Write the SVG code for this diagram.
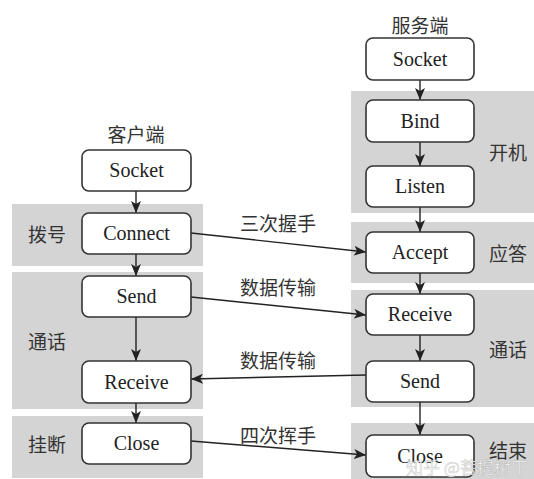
<svg xmlns="http://www.w3.org/2000/svg" width="534" height="479" viewBox="0 0 534 479">
<defs>
<marker id="ah" viewBox="0 0 12 10" refX="12" refY="5" markerWidth="12" markerHeight="10" markerUnits="userSpaceOnUse" orient="auto">
<path d="M0,0 L12,5 L0,10 L3,5 Z" fill="#222"/>
</marker>
<style>
.band{fill:#d4d4d4}
.box{fill:#fff;stroke:#333;stroke-width:1.6}
.en{font-family:"Liberation Serif","Times New Roman",serif;font-size:20px;fill:#222;text-anchor:middle}
.zh{font-family:"Noto Sans CJK SC","Noto Sans",sans-serif;font-size:19px;fill:#333;text-anchor:middle}
.ln{stroke:#222;stroke-width:1.4;fill:none;marker-end:url(#ah)}
</style>
</defs>
<rect width="534" height="479" fill="#fff"/>
<g id="bands">
<rect class="band" x="12" y="204" width="191" height="62"/>
<rect class="band" x="12" y="272" width="191" height="137"/>
<rect class="band" x="12" y="416" width="191" height="62"/>
<rect class="band" x="351" y="91" width="183" height="122"/>
<rect class="band" x="351" y="222" width="183" height="61"/>
<rect class="band" x="351" y="290" width="183" height="117"/>
<rect class="band" x="351" y="423" width="183" height="56"/>
</g>
<g id="labels">
<text class="zh" x="136" y="142">客户端</text>
<text class="zh" x="420" y="33">服务端</text>
<text class="zh" x="47" y="242">拨号</text>
<text class="zh" x="47" y="349">通话</text>
<text class="zh" x="47" y="452">挂断</text>
<text class="zh" x="508" y="160">开机</text>
<text class="zh" x="508" y="261">应答</text>
<text class="zh" x="508" y="357">通话</text>
<text class="zh" x="508" y="458">结束</text>
</g>
<g id="connectors">
<line class="ln" x1="136" y1="191" x2="136" y2="213"/>
<line class="ln" x1="136" y1="254" x2="136" y2="276"/>
<line class="ln" x1="136" y1="317" x2="136" y2="361"/>
<line class="ln" x1="136" y1="403" x2="136" y2="423"/>
<line class="ln" x1="420" y1="80" x2="420" y2="100"/>
<line class="ln" x1="420" y1="142" x2="420" y2="166"/>
<line class="ln" x1="420" y1="207" x2="420" y2="232"/>
<line class="ln" x1="420" y1="273" x2="420" y2="294"/>
<line class="ln" x1="420" y1="335" x2="420" y2="361"/>
<line class="ln" x1="420" y1="402" x2="420" y2="435"/>
<line class="ln" x1="191" y1="233" x2="366" y2="252"/>
<line class="ln" x1="191" y1="297" x2="366" y2="315"/>
<line class="ln" x1="366" y1="375" x2="191" y2="379"/>
<line class="ln" x1="191" y1="441" x2="366" y2="455"/>
<text class="zh" x="278" y="231">三次握手</text>
<text class="zh" x="278" y="295">数据传输</text>
<text class="zh" x="278" y="368">数据传输</text>
<text class="zh" x="278" y="443">四次挥手</text>
</g>
<g id="c-socket"><rect class="box" x="82" y="150" width="109" height="41" rx="7"/><text class="en" x="136.5" y="177">Socket</text></g>
<g id="c-connect"><rect class="box" x="82" y="213" width="109" height="41" rx="7"/><text class="en" x="136.5" y="240">Connect</text></g>
<g id="c-send"><rect class="box" x="82" y="276" width="109" height="41" rx="7"/><text class="en" x="136.5" y="303">Send</text></g>
<g id="c-receive"><rect class="box" x="82" y="361" width="109" height="42" rx="7"/><text class="en" x="136.5" y="389">Receive</text></g>
<g id="c-close"><rect class="box" x="82" y="423" width="109" height="41" rx="7"/><text class="en" x="136.5" y="450">Close</text></g>
<g id="s-socket"><rect class="box" x="366" y="38" width="108" height="42" rx="7"/><text class="en" x="420" y="66">Socket</text></g>
<g id="s-bind"><rect class="box" x="366" y="100" width="108" height="42" rx="7"/><text class="en" x="420" y="128">Bind</text></g>
<g id="s-listen"><rect class="box" x="366" y="166" width="108" height="41" rx="7"/><text class="en" x="420" y="193">Listen</text></g>
<g id="s-accept"><rect class="box" x="366" y="232" width="108" height="41" rx="7"/><text class="en" x="420" y="259">Accept</text></g>
<g id="s-receive"><rect class="box" x="366" y="294" width="108" height="41" rx="7"/><text class="en" x="420" y="321">Receive</text></g>
<g id="s-send"><rect class="box" x="366" y="361" width="108" height="41" rx="7"/><text class="en" x="420" y="388">Send</text></g>
<g id="s-close"><rect class="box" x="366" y="435" width="108" height="42" rx="7"/><text class="en" x="420" y="463">Close</text></g>
<text x="467" y="474" font-family="Noto Sans CJK SC,sans-serif" font-size="17" text-anchor="middle" fill="#fff" fill-opacity="0.85" stroke="#999" stroke-width="0.5" stroke-opacity="0.6">知乎 @菩提树下</text>
</svg>
